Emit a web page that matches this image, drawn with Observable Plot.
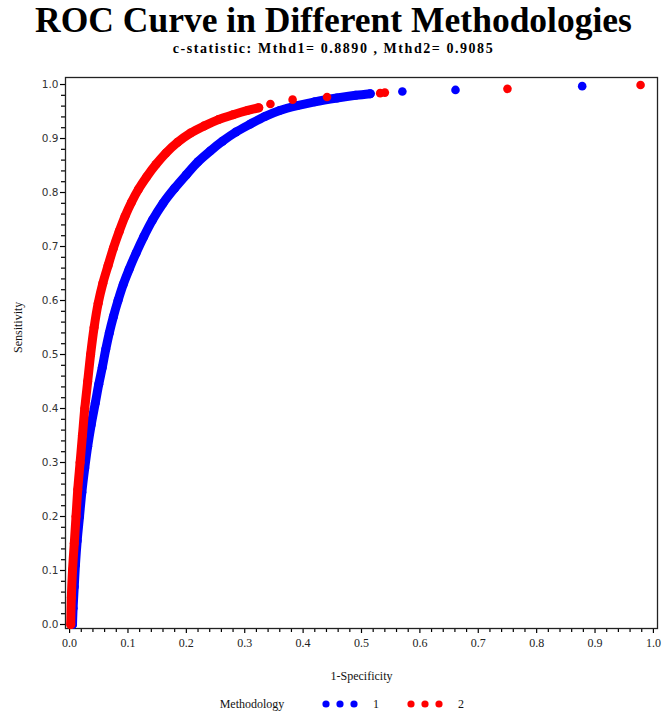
<!DOCTYPE html>
<html>
<head>
<meta charset="utf-8">
<script src="https://cdn.jsdelivr.net/npm/d3@7"></script>
<script src="https://cdn.jsdelivr.net/npm/@observablehq/plot@0.6"></script>
<style>
  html, body { margin: 0; padding: 0; background: #fff; }
  #page { width: 667px; height: 713px; position: relative; overflow: hidden; }
  #header { position: relative; height: 60px; }
  #title { position: absolute; left: 0; width: 667px; top: 3px; text-align: center;
           font: bold 35.5px "Liberation Serif", "Times New Roman", serif; line-height: 34px; color: #000; }
  #subtitle { position: absolute; left: 0; width: 667px; top: 40.5px; text-align: center;
           font: bold 14px "Liberation Serif", "Times New Roman", serif; line-height: 16px; letter-spacing: 1.55px; color: #000; }
  #chart svg { display: block; }
  #legend { position: relative; height: 23px; }
</style>
</head>
<body>
<div id="page">
  <div id="header"><div id="title"></div><div id="subtitle"></div></div>
  <div id="chart"></div>
  <div id="legend"></div>
</div>
<script>
const titleText = "ROC Curve in Different Methodologies";
const subtitleText = "c-statistic: Mthd1= 0.8890 , Mthd2= 0.9085";
const xLabel = "1-Specificity";
const yLabel = "Sensitivity";
const legendTitle = "Methodology";
const methods = ["1", "2"];
const colors = ["#0000ff", "#ff0000"];
const xTicks = [0, 0.1, 0.2, 0.3, 0.4, 0.5, 0.6, 0.7, 0.8, 0.9, 1.0];
const yTicks = [0, 0.1, 0.2, 0.3, 0.4, 0.5, 0.6, 0.7, 0.8, 0.9, 1.0];
const minorTicks = [0.02,0.04,0.06,0.08,0.12,0.14,0.16,0.18,0.22,0.24,0.26,0.28,0.32,0.34,0.36,0.38,0.42,0.44,0.46,0.48,0.52,0.54,0.56,0.58,0.62,0.64,0.66,0.68,0.72,0.74,0.76,0.78,0.82,0.84,0.86,0.88,0.92,0.94,0.96,0.98];

// Methodology 1 (blue): dense part of ROC curve
const fpr1 = [0.005,0.006,0.008,0.010,0.013,0.017,0.021,0.026,0.031,0.037,0.044,0.050,0.056,0.062,0.068,0.075,0.083,0.092,0.102,0.114,0.127,0.142,0.160,0.180,0.200,0.220,0.241,0.262,0.285,0.310,0.335,0.360,0.390,0.420,0.458,0.490,0.515];
const tpr1 = [0.000,0.030,0.070,0.110,0.155,0.200,0.245,0.290,0.330,0.370,0.410,0.445,0.476,0.510,0.540,0.570,0.600,0.630,0.658,0.688,0.718,0.749,0.780,0.808,0.833,0.857,0.877,0.895,0.912,0.927,0.941,0.952,0.961,0.968,0.975,0.980,0.983];
// Methodology 1 sparse tail points
const tailFpr1 = [0.570,0.661,0.878];
const tailTpr1 = [0.987,0.990,0.997];

// Methodology 2 (red): dense part of ROC curve
const fpr2 = [0.002,0.003,0.005,0.008,0.011,0.014,0.018,0.022,0.026,0.031,0.036,0.042,0.049,0.057,0.066,0.075,0.085,0.095,0.106,0.118,0.132,0.148,0.165,0.185,0.207,0.230,0.255,0.280,0.305,0.324];
const tpr2 = [0.000,0.050,0.100,0.150,0.200,0.250,0.300,0.350,0.400,0.450,0.500,0.550,0.595,0.632,0.665,0.697,0.728,0.756,0.782,0.806,0.829,0.852,0.873,0.893,0.910,0.923,0.935,0.944,0.952,0.957];
// Methodology 2 sparse tail points
const tailFpr2 = [0.344,0.382,0.441,0.532,0.540,0.750,0.978];
const tailTpr2 = [0.964,0.972,0.977,0.984,0.985,0.992,0.999];

document.getElementById("title").textContent = titleText;
document.getElementById("subtitle").textContent = subtitleText;

const series = [
  {m: methods[0], dense: fpr1.map((x, i) => ({x, y: tpr1[i], m: methods[0]})),
                  tail: tailFpr1.map((x, i) => ({x, y: tailTpr1[i], m: methods[0]}))},
  {m: methods[1], dense: fpr2.map((x, i) => ({x, y: tpr2[i], m: methods[1]})),
                  tail: tailFpr2.map((x, i) => ({x, y: tailTpr2[i], m: methods[1]}))}
];
const serif = "'Liberation Serif', 'Times New Roman', serif";
const sans = "'DejaVu Sans', Verdana, sans-serif";

const seriesMarks = series.flatMap(s => [
  Plot.line(s.dense, {x: "x", y: "y", stroke: "m", strokeWidth: 9, strokeLinecap: "round", strokeLinejoin: "round", curve: "catmull-rom"}),
  Plot.dot(s.dense, {x: "x", y: "y", fill: "m", r: 4.5}),
  Plot.dot(s.tail, {x: "x", y: "y", fill: "m", r: 4.3})
]);

const chart = Plot.plot({
  width: 667,
  height: 630,
  marginLeft: 65,
  marginRight: 10,
  marginTop: 17,
  marginBottom: 62,
  style: {background: "#fff", overflow: "visible"},
  x: {domain: [-0.007, 1.007], label: null},
  y: {domain: [-0.0074, 1.013], label: null},
  color: {domain: methods, range: colors},
  marks: [
    Plot.axisX({ticks: minorTicks, tickSize: 4, text: null, label: null, stroke: "#000", strokeWidth: 1.2}),
    Plot.axisY({ticks: minorTicks, tickSize: 4, text: null, label: null, stroke: "#000", strokeWidth: 1.2}),
    Plot.axisX({ticks: xTicks, tickSize: 5, tickPadding: 5, tickFormat: d3.format(".1f"), label: null,
                fontFamily: serif, fontSize: 12, fill: "#222", stroke: "#000", strokeWidth: 1.2}),
    Plot.axisY({ticks: yTicks, tickSize: 5, tickPadding: 2, tickFormat: d3.format(".1f"), label: null,
                fontFamily: sans, fontSize: 10.5, fill: "#333", stroke: "#000", strokeWidth: 1.2}),
    Plot.frame({stroke: "#222", strokeWidth: 1.3}),
    ...seriesMarks,
    Plot.text([yLabel], {frameAnchor: "left", text: d => d, rotate: -90, dx: -47, fontFamily: serif, fontSize: 12, fill: "#111"}),
    Plot.text([xLabel], {frameAnchor: "bottom", text: d => d, dy: 51, fontFamily: serif, fontSize: 12, fill: "#111"})
  ]
});
document.getElementById("chart").appendChild(chart);

// Legend
const legend = d3.select("#legend").append("svg").attr("width", 667).attr("height", 23);
legend.append("text").attr("x", 252).attr("y", 18).attr("text-anchor", "middle")
  .style("font-family", serif).style("font-size", "12px").attr("fill", "#111").text(legendTitle);
const groupX = [326, 411];
methods.forEach((m, i) => {
  for (let k = 0; k < 3; k++) {
    legend.append("circle").attr("cx", groupX[i] + k * 14).attr("cy", 14).attr("r", 3.6).attr("fill", colors[i]);
  }
  legend.append("text").attr("x", groupX[i] + 50).attr("y", 18).attr("text-anchor", "middle")
    .style("font-family", serif).style("font-size", "12px").attr("fill", "#111").text(m);
});
</script>
</body>
</html>
